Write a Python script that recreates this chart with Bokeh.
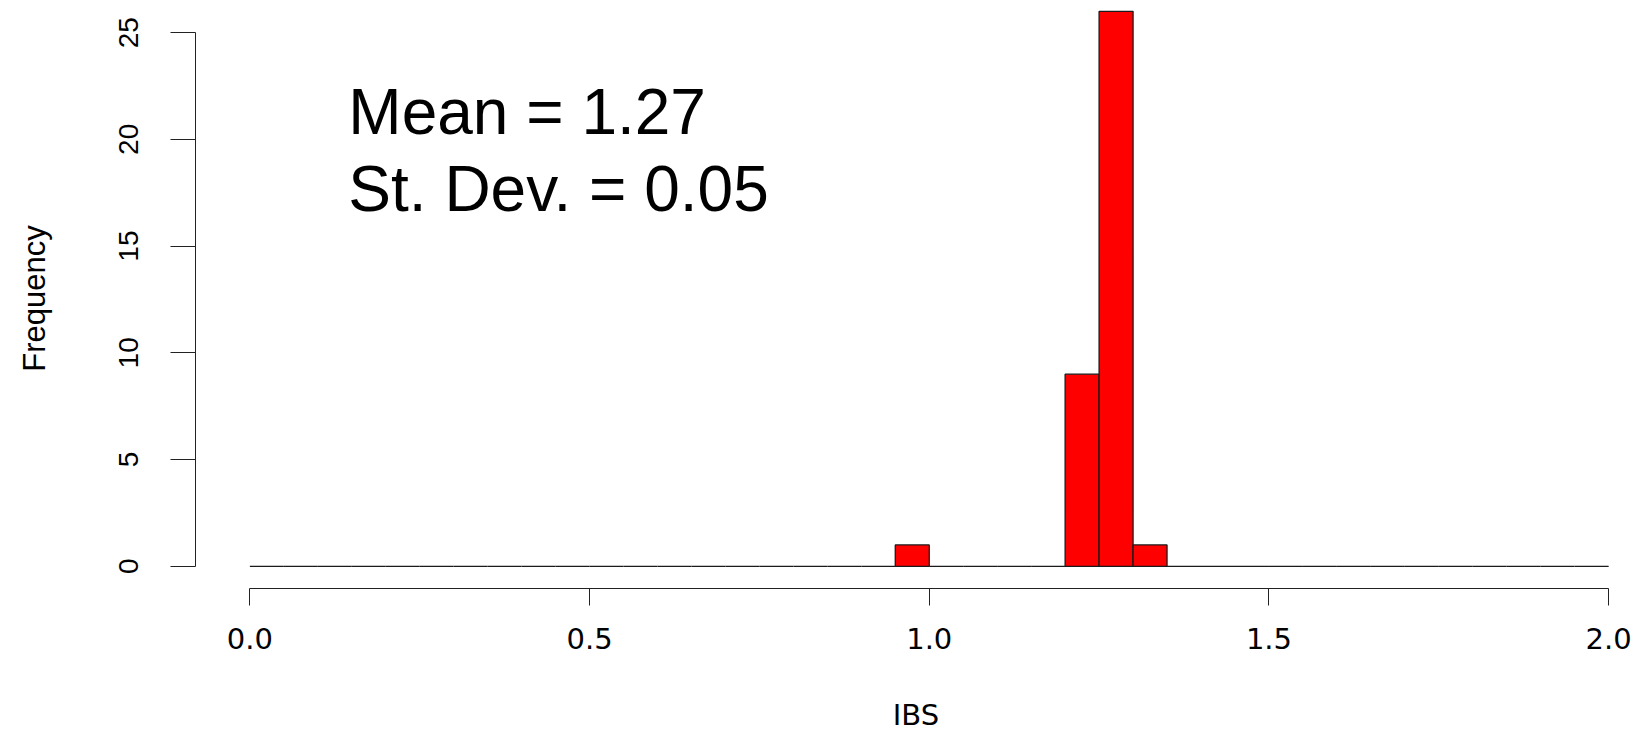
from bokeh.plotting import figure
from bokeh.models import Range1d, FixedTicker
from bokeh.core.properties import value
from bokeh.embed import file_html
from bokeh.resources import INLINE

# Histogram data (IBS), breaks every 0.05 from 0.0 to 2.0
bin_width = 0.05
bin_left = [round(i * bin_width, 2) for i in range(40)]
bin_right = [round(b + bin_width, 2) for b in bin_left]
counts = [0] * 40
counts[19] = 1   # 0.95-1.00
counts[24] = 9   # 1.20-1.25
counts[25] = 26  # 1.25-1.30
counts[26] = 1   # 1.30-1.35
bottoms = [0] * 40

x_ticks = [0.0, 0.5, 1.0, 1.5, 2.0]
x_tick_labels = {0.0: "0.0", 0.5: "0.5", 1.0: "1.0", 1.5: "1.5", 2.0: "2.0"}
y_ticks = [0, 5, 10, 15, 20, 25]
annot_lines = ["Mean = 1.27", "St. Dev. = 0.05"]
annot_y = [21.3, 17.69]

p = figure(
    frame_width=1441, frame_height=580,
    min_border_left=195, min_border_right=0, min_border_top=8, min_border_bottom=120,
    x_range=Range1d(-0.08, 2.041), y_range=Range1d(-1.04, 26.13),
    output_backend="svg", toolbar_location=None,
    x_axis_label="IBS", y_axis_label="Frequency",
)
p.outline_line_color = None
p.grid.visible = False
p.background_fill_color = "white"
p.border_fill_color = "white"

p.quad(left=bin_left, right=bin_right, bottom=bottoms, top=counts,
       fill_color="#FF0000", line_color="#1a1a1a", line_width=1.3)

p.text(x=[0.145, 0.145], y=annot_y, text=annot_lines,
       text_font=value("Liberation Sans"), text_font_size="64px",
       text_color="black", text_baseline="alphabetic", text_align="left")

xa = p.xaxis[0]
xa.ticker = FixedTicker(ticks=x_ticks)
xa.major_label_overrides = x_tick_labels
xa.bounds = (0, 2)
xa.minor_tick_line_color = None
xa.major_tick_in = 0
xa.major_tick_out = 17
xa.axis_line_color = "#222222"
xa.major_tick_line_color = "#222222"
xa.major_label_text_font = "DejaVu Sans"
xa.major_label_text_font_size = "29px"
xa.major_label_text_color = "black"
xa.major_label_standoff = 22
xa.axis_label_text_font = "DejaVu Sans"
xa.axis_label_text_font_size = "29px"
xa.axis_label_text_font_style = "normal"
xa.axis_label_text_color = "black"
xa.axis_label_standoff = 46

ya = p.yaxis[0]
ya.ticker = FixedTicker(ticks=y_ticks)
ya.bounds = (0, 25)
ya.minor_tick_line_color = None
ya.major_tick_in = 0
ya.major_tick_out = 25
ya.axis_line_color = "#222222"
ya.major_tick_line_color = "#222222"
ya.major_label_orientation = "vertical"
ya.major_label_text_font = "Liberation Sans"
ya.major_label_text_font_size = "28px"
ya.major_label_text_color = "black"
ya.major_label_standoff = 32
ya.axis_label_text_font = "Liberation Sans"
ya.axis_label_text_font_size = "31px"
ya.axis_label_text_font_style = "normal"
ya.axis_label_text_color = "black"
ya.axis_label_standoff = 65

open("out.html", "w").write(file_html(p, INLINE))
